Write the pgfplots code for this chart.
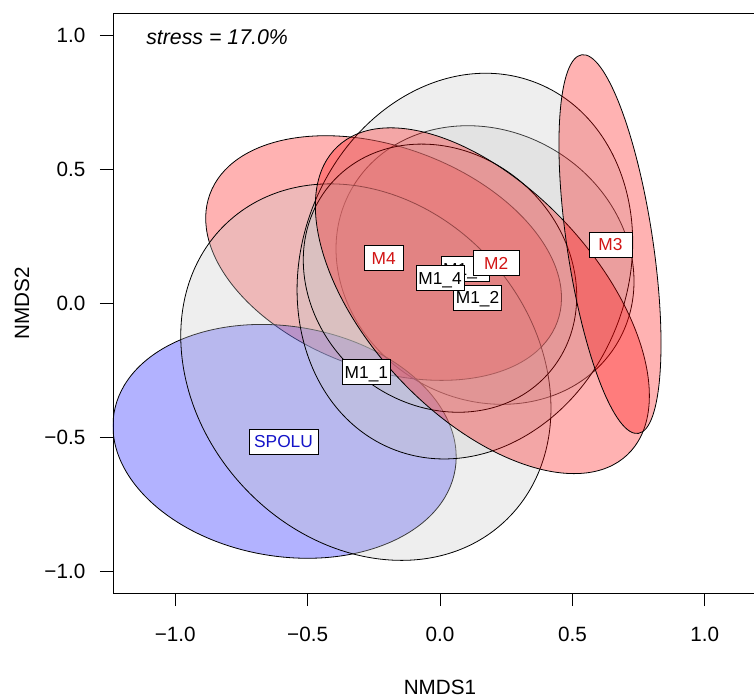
\documentclass[border=0pt]{standalone}
\usepackage{pgfplots}
\pgfplotsset{compat=1.18}
\usepackage{fontspec}
\setmainfont{Liberation Sans}
\definecolor{lblred}{RGB}{210,20,20}
\definecolor{lblblue}{RGB}{20,20,200}
\definecolor{ellgray}{RGB}{200,200,200}
\definecolor{ellred}{RGB}{255,0,0}
\definecolor{ellblue}{RGB}{0,0,255}
\tikzset{
  ell/.style={draw=black, line width=0.6pt, fill opacity=0.3},
  lbl/.style={draw=black, fill=white, line width=0.5pt, inner sep=0pt,
    minimum height=18.75pt, text height=9.3pt, text depth=0pt,
    font=\fontsize{13}{15}\selectfont},
}
\begin{document}
\begin{tikzpicture}
\useasboundingbox (-84.75pt,-78pt) rectangle (480.75pt,444.75pt);
\clip (-84.75pt,-78pt) rectangle (480.75pt,444.75pt);
\begin{axis}[
  at={(0,0)}, anchor=south west,
  width=490.5pt, height=435pt, scale only axis,
  xmin=-1.235, xmax=1.235, ymin=-1.079, ymax=1.082,
  xtick={-1,-0.5,0,0.5,1}, xticklabels={−1.0,−0.5,0.0,0.5,1.0},
  ytick={-1,-0.5,0,0.5,1}, yticklabels={−1.0,−0.5,0.0,0.5,1.0},
  xtick pos=lower, ytick pos=left,
  tick align=outside, major tick length=9.75pt,
  tick style={black, line width=0.5pt},
  axis line style={line width=0.6pt},
  tick label style={font=\fontsize{15.5}{18}\selectfont},
  xticklabel style={yshift=-12pt},
  yticklabel style={xshift=-7.5pt},
  label style={font=\fontsize{15.5}{18}\selectfont},
  xlabel={NMDS1}, ylabel={NMDS2},
  xlabel style={at={(rel axis cs:0.5,0)}, anchor=center, yshift=-70.5pt},
  ylabel style={at={(rel axis cs:0,0.5)}, anchor=center, yshift=68.25pt},
]
% ellipses: centre, semi-axes, rotation
\draw[ell, fill=ellgray, rotate around={-30:(axis cs:0.170,0.143)}] (axis cs:0.170,0.143) ellipse [x radius=0.58, y radius=0.50];
\draw[ell, fill=ellred, rotate around={-20.2:(axis cs:-0.213,0.169)}] (axis cs:-0.213,0.169) ellipse [x radius=0.699, y radius=0.414];
\draw[ell, fill=ellblue, rotate around={-9.35:(axis cs:-0.587,-0.514)}] (axis cs:-0.587,-0.514) ellipse [x radius=0.653, y radius=0.4285];
\draw[ell, fill=ellgray, rotate around={-47.5:(axis cs:-0.280,-0.256)}] (axis cs:-0.280,-0.256) ellipse [x radius=0.770, y radius=0.625];
\draw[ell, fill=ellgray, rotate around={69.2:(axis cs:0.094,0.139)}] (axis cs:0.094,0.139) ellipse [x radius=0.743, y radius=0.608];
\draw[ell, fill=ellgray, rotate around={-40.9:(axis cs:0.0,0.094)}] (axis cs:0.0,0.094) ellipse [x radius=0.545, y radius=0.469];
\draw[ell, fill=ellred, rotate around={-46.8:(axis cs:0.160,0.010)}] (axis cs:0.160,0.010) ellipse [x radius=0.799, y radius=0.425];
\draw[ell, fill=ellred, rotate around={-81.5:(axis cs:0.642,0.221)}] (axis cs:0.642,0.221) ellipse [x radius=0.723, y radius=0.160];
% labels
\node[lbl, text=black, minimum width=36pt] at (axis cs:-0.278,-0.256) {M1\_1};
\node[lbl, text=black, minimum width=36pt] at (axis cs:0.142,0.022) {M1\_2};
\node[lbl, text=black, minimum width=36pt] at (axis cs:0.094,0.128) {M1\_3};
\node[lbl, text=black, minimum width=36pt] at (axis cs:0.0,0.094) {M1\_4};
\node[lbl, text=lblred, minimum width=34.5pt] at (axis cs:0.212,0.150) {M2};
\node[lbl, text=lblred, minimum width=32.25pt] at (axis cs:0.644,0.219) {M3};
\node[lbl, text=lblred, minimum width=29.25pt] at (axis cs:-0.213,0.169) {M4};
\node[lbl, text=lblblue, minimum width=51.75pt] at (axis cs:-0.591,-0.515) {SPOLU};
\node[anchor=base west, font=\fontsize{16}{18}\selectfont\itshape, inner sep=0pt] at (rel axis cs:0,1) [xshift=24.75pt, yshift=-24pt] {stress = 17.0\%};
\end{axis}
\end{tikzpicture}
\end{document}
